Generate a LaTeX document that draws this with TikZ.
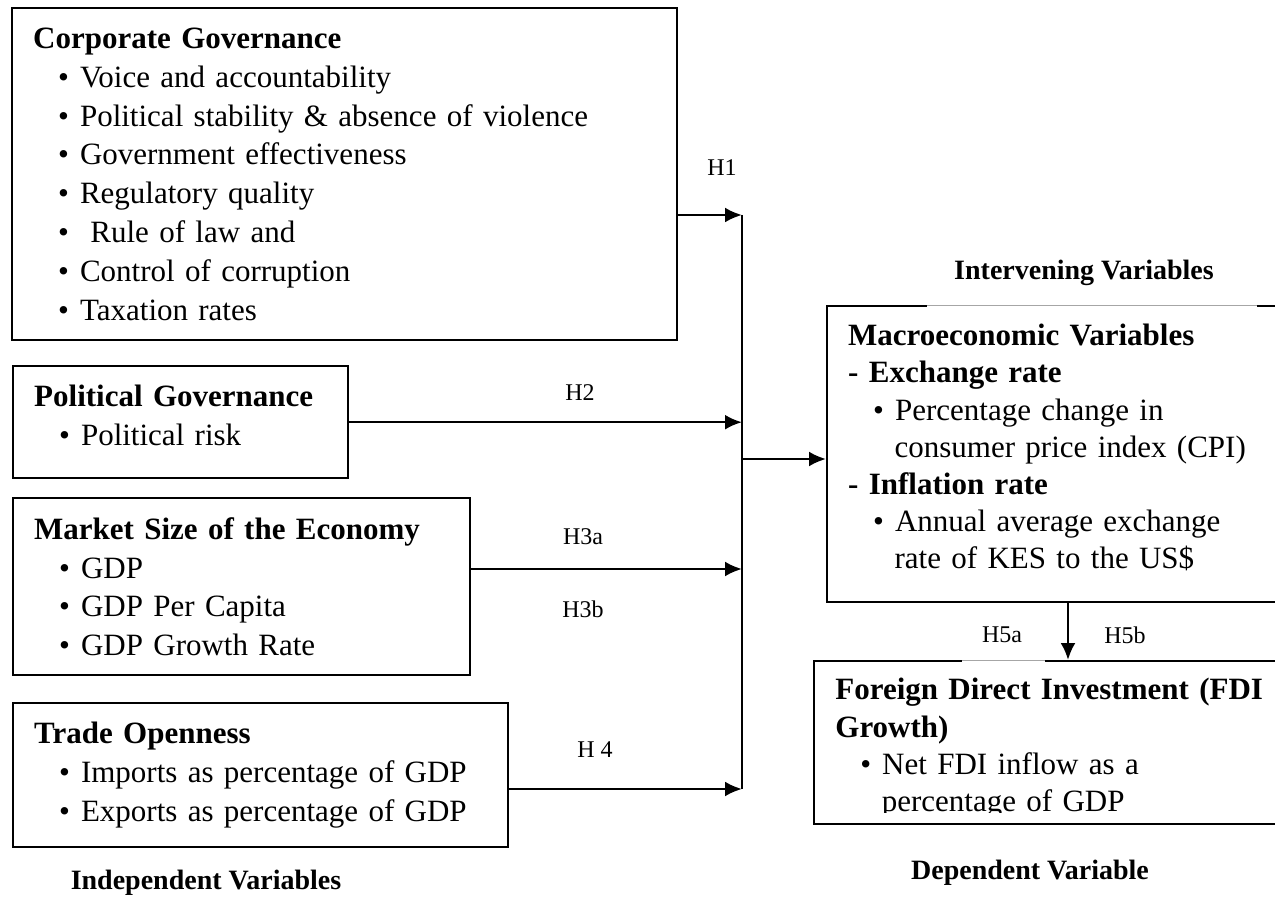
\documentclass[tikz,border=0pt]{standalone}
\usepackage{fontspec}
\setmainfont{Liberation Serif}
\usepackage{tikz}
\usetikzlibrary{arrows.meta,positioning}

\newcommand{\itm}{\hspace*{12.5pt}\textbullet\hspace{5.5pt}}
\newcommand{\contline}{\hspace*{23.2pt}}

\tikzset{
  box/.style={draw, line width=1.2pt, rectangle, anchor=north west,
    inner xsep=10.5pt, inner ysep=0pt, align=left,
    font=\fontsize{15.5pt}{19.4pt}\selectfont},
  rbox/.style={box, font=\fontsize{15.5pt}{18.6pt}\selectfont},
  arr/.style={line width=1.3pt, -{Latex[length=8.5pt,width=7.5pt]}},
  bus/.style={line width=1.3pt},
  gapline/.style={black!35, line width=0.4pt},
  hyp/.style={font=\fontsize{12pt}{14pt}\selectfont, inner sep=0pt},
  head/.style={font=\fontsize{14pt}{16pt}\selectfont\bfseries, inner sep=0pt}
}

\begin{document}
\begin{tikzpicture}[x=0.5pt, y=-0.5pt]
    \useasboundingbox (0,0) rectangle (1275,898);

    \node[box, text width=311.5pt, minimum height=166pt] (cg) at (11,7) {%
        \textbf{Corporate Governance}\\
        \itm Voice and accountability\\
        \itm Political stability \& absence of violence\\
        \itm Government effectiveness\\
        \itm Regulatory quality\\
        \itm\ Rule of law and\\
        \itm Control of corruption\\
        \itm Taxation rates};
    \node[box, text width=146.5pt, minimum height=56pt] (pg) at (12,365) {%
        \textbf{Political Governance}\\
        \itm Political risk\\[-12.4pt]\mbox{}};
    \node[box, text width=207.5pt, minimum height=88.5pt] (ms) at (12,497) {%
        \textbf{Market Size of the Economy}\\
        \itm GDP\\
        \itm GDP Per Capita\\
        \itm GDP Growth Rate};
    \node[box, text width=226.5pt, minimum height=72pt] (to) at (12,702) {%
        \textbf{Trade Openness}\\
        \itm Imports as percentage of GDP\\
        \itm Exports as percentage of GDP};

    \node[rbox, text width=214pt, minimum height=148pt] (mv) at (826,305) {%
        \textbf{Macroeconomic Variables}\\
        \textbf{- Exchange rate}\\
        \itm Percentage change in\\
        \contline consumer price index (CPI)\\
        \textbf{- Inflation rate}\\
        \itm Annual average exchange\\
        \contline rate of KES to the US\$\\[-11pt]\mbox{}};
    \node[draw, line width=1.2pt, anchor=north west, inner sep=0pt,
        minimum width=240pt, minimum height=81.5pt] (fdi) at (813,660) {};
    \begin{scope}
        \clip (813,660) rectangle (1300,812);
        \node[anchor=north west, inner sep=0pt, align=left, text width=225pt,
            font=\fontsize{15.5pt}{18.6pt}\selectfont] (fditxt) at (835,678) {%
            \textbf{Foreign Direct Investment (FDI}\\
            \textbf{Growth)}\\
            \itm Net FDI inflow as a\\
            \contline percentage of GDP};
    \end{scope}

    \draw[white, line width=1.8pt] (927,305) -- (1257,305);
    \draw[gapline] (927,305) -- (1257,305);
    \draw[white, line width=1.8pt] (962,660) -- (1045,660);
    \draw[gapline] (962,660) -- (1045,660);

    \coordinate (j1) at (742,215);
    \coordinate (j3) at (742,569);
    \coordinate (j4) at (742,789);
    \coordinate (jm) at (742,459);
    \coordinate (h5) at (1068,640);

    \draw[bus] (j1) -- (j4);
    \draw[arr] (cg.east |- j1) -- (j1);
    \draw[arr] (pg.east) -- (pg.east -| j1);
    \draw[arr] (ms.east |- j3) -- (j3);
    \draw[arr] (to.east |- j4) -- (j4);
    \draw[arr] (jm) -- (mv.west |- jm);
    \draw[arr] (mv.south -| h5) -- (fdi.north -| h5);

    \foreach \n/\t/\x/\y in {h1/H1/722/168, h2/H2/580/393, h3a/H3a/583/537,
        h3b/H3b/583/609, h4/H 4/595/750, h5a/H5a/1002/635, h5b/H5b/1125/635}
        \node[hyp] (\n) at (\x,\y) {\t};

    \node[head] (iv) at (1084,273) {Intervening Variables};
    \node[head] (ind) at (206,883) {Independent Variables};
    \node[head] (dep) at (1030,873) {Dependent Variable};
\end{tikzpicture}
\end{document}
